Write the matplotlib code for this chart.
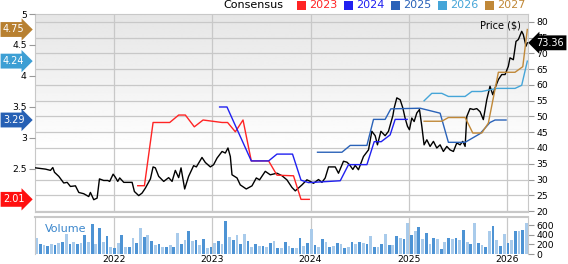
import numpy as np
import matplotlib.pyplot as plt
import matplotlib.transforms as mtransforms
from matplotlib.patches import Rectangle

# Precio semanal (fecha en años decimales, $)
fechas_precio = [2021.205, 2021.307, 2021.357, 2021.381, 2021.398, 2021.442, 2021.492, 2021.527, 2021.560, 2021.611,
                 2021.645, 2021.695, 2021.746, 2021.763, 2021.797, 2021.831, 2021.855, 2021.898, 2021.939, 2021.959,
                 2021.994, 2022.017, 2022.041, 2022.061, 2022.102, 2022.152, 2022.187, 2022.210, 2022.254, 2022.288,
                 2022.322, 2022.373, 2022.400, 2022.423, 2022.457, 2022.508, 2022.558, 2022.593, 2022.626, 2022.660,
                 2022.684, 2022.721, 2022.761, 2022.812, 2022.840, 2022.897, 2022.931, 2022.982, 2023.015, 2023.050,
                 2023.101, 2023.134, 2023.161, 2023.185, 2023.202, 2023.253, 2023.286, 2023.347, 2023.405, 2023.449,
                 2023.482, 2023.540, 2023.591, 2023.659, 2023.710, 2023.760, 2023.811, 2023.845, 2023.878, 2023.913,
                 2023.963, 2024.004, 2024.030, 2024.081, 2024.116, 2024.149, 2024.183, 2024.217, 2024.251, 2024.284,
                 2024.335, 2024.370, 2024.396, 2024.430, 2024.454, 2024.487, 2024.538, 2024.589, 2024.623, 2024.657,
                 2024.680, 2024.715, 2024.758, 2024.792, 2024.837, 2024.850, 2024.877, 2024.911, 2024.938, 2024.961,
                 2024.985, 2025.005, 2025.029, 2025.053, 2025.080, 2025.107, 2025.131, 2025.154, 2025.182, 2025.215,
                 2025.249, 2025.283, 2025.317, 2025.350, 2025.385, 2025.418, 2025.452, 2025.486, 2025.520, 2025.547,
                 2025.571, 2025.588, 2025.621, 2025.655, 2025.689, 2025.723, 2025.756, 2025.791, 2025.824, 2025.852,
                 2025.875, 2025.909, 2025.943, 2025.977, 2026.010, 2026.027, 2026.061, 2026.088, 2026.112, 2026.146,
                 2026.162, 2026.190, 2026.203]
precio = [33.7, 33.3, 32.9, 33.8, 32.3, 31.0, 28.9, 29.1, 27.8, 28.0,
          25.9, 25.5, 24.6, 25.9, 23.6, 24.1, 30.2, 29.7, 29.7, 29.4,
          31.7, 30.7, 29.4, 30.5, 29.1, 29.1, 29.1, 26.2, 24.9, 25.7,
          27.3, 30.2, 34.0, 33.7, 31.0, 29.4, 30.6, 29.4, 32.9, 30.6,
          33.7, 27.0, 31.0, 34.4, 34.0, 37.0, 35.4, 34.0, 34.7, 36.8,
          38.9, 38.4, 40.0, 37.3, 31.5, 30.5, 28.3, 27.0, 28.0, 30.5,
          29.9, 32.6, 31.5, 32.0, 31.2, 29.9, 27.5, 26.4, 27.3, 28.3,
          29.9, 29.3, 28.8, 30.0, 29.1, 30.5, 34.0, 34.0, 34.0, 32.0,
          35.8, 35.5, 34.7, 33.2, 34.5, 33.1, 37.3, 39.4, 45.3, 43.9,
          41.0, 45.3, 43.9, 45.3, 50.3, 52.7, 55.9, 55.3, 52.7, 49.5,
          46.9, 45.8, 49.5, 48.4, 51.1, 52.2, 46.9, 41.0, 42.6, 40.5,
          42.1, 40.0, 41.0, 38.9, 40.5, 39.4, 38.9, 41.6, 41.0, 42.1,
          40.5, 50.0, 52.5, 52.2, 52.5, 51.5, 49.0, 55.3, 59.6, 56.9,
          59.0, 61.7, 63.3, 63.3, 65.9, 68.6, 68.0, 73.8, 74.4, 77.0,
          76.0, 72.3, 73.36]

# Consenso de BPA por año fiscal (fecha, valor)
fechas_2023 = [2022.244, 2022.312, 2022.400, 2022.569, 2022.660, 2022.728, 2022.819, 2022.908, 2023.101,
               2023.157, 2023.236, 2023.314, 2023.398, 2023.574, 2023.659, 2023.827, 2023.903, 2023.987]
bpa_2023 = [2.23, 2.23, 3.25, 3.25, 3.37, 3.37, 3.18, 3.29, 3.25, 3.25, 3.10, 3.29, 2.63, 2.63, 2.40, 2.39, 2.01, 2.01]
fechas_2024 = [2023.076, 2023.151, 2023.398, 2023.574, 2023.659, 2023.817, 2023.903, 2023.980, 2024.302,
               2024.386, 2024.573, 2024.647, 2024.718, 2024.809, 2024.860, 2024.982]
bpa_2024 = [3.50, 3.50, 2.63, 2.63, 2.74, 2.74, 2.32, 2.28, 2.31, 2.57, 2.57, 2.94, 2.94, 3.05, 3.30, 3.30]
fechas_2025 = [2024.071, 2024.319, 2024.403, 2024.573, 2024.640, 2024.758, 2024.816, 2025.114, 2025.317,
               2025.401, 2025.571, 2025.723, 2025.824, 2025.875, 2025.987]
bpa_2025 = [2.77, 2.77, 2.88, 2.88, 3.30, 3.30, 3.47, 3.48, 3.40, 2.93, 2.93, 3.07, 3.25, 3.29, 3.29]
fechas_2026 = [2025.154, 2025.232, 2025.334, 2025.401, 2025.571, 2025.639, 2025.740, 2025.892, 2026.078,
               2026.146, 2026.203]
bpa_2026 = [3.60, 3.72, 3.72, 3.67, 3.67, 3.75, 3.75, 3.80, 3.80, 3.85, 4.24]
fechas_2027 = [2025.154, 2025.334, 2025.401, 2025.571, 2025.649, 2025.740, 2025.807, 2025.909, 2026.078,
               2026.157, 2026.203]
bpa_2027 = [3.27, 3.27, 3.33, 3.33, 3.08, 3.08, 3.24, 4.06, 4.06, 4.15, 4.75]

anios = ['2023', '2024', '2025', '2026', '2027']
colores = ['#ff2424', '#2020f0', '#2a62b8', '#45a5d8', '#c08838']
etiqueta_col = ['#ff1010', None, '#2660b4', '#3d9fd4', '#b88030']

# Volumen semanal (miles)
volumen = [330, 200, 190, 170, 200, 180, 230, 260, 420, 200, 250, 200, 220, 400, 250, 620, 200, 540, 240, 380,
           150, 130, 220, 390, 150, 140, 330, 220, 550, 350, 390, 280, 180, 210, 150, 140, 180, 150, 430, 200,
           300, 480, 280, 300, 180, 310, 130, 150, 220, 280, 200, 690, 350, 300, 400, 200, 420, 270, 150, 200,
           160, 170, 150, 220,
           270, 120, 130, 250, 160, 130, 130, 340, 170, 230, 510, 180, 150, 320, 240, 150, 170, 220, 200, 120,
           150, 240, 210, 250, 230, 200, 370, 150, 140, 210, 410, 190, 180, 370, 340, 310, 640, 400, 480, 560,
           310, 430, 200, 330, 310, 100, 250, 340, 320, 330, 290, 500, 260, 200, 640, 220, 180, 150, 470, 580,
           300, 170, 410, 220, 300, 470, 480, 500, 650]
vol_inicio, vol_fin = 2021.215, 2026.195

series = [(fechas_2023, bpa_2023), (fechas_2024, bpa_2024), (fechas_2025, bpa_2025),
          (fechas_2026, bpa_2026), (fechas_2027, bpa_2027)]

x_min, x_max = 2021.2, 2026.21
gris = '#c8c8c8'

fig = plt.figure(figsize=(5.68, 2.64), dpi=100)
ax = fig.add_axes([35/568, 52/264, 493/568, 198/264])
ax2 = ax.twinx()
axv = fig.add_axes([35/568, 10/264, 493/568, 37/264])

# fondo degradado
t = np.linspace(0, 1, 200)
grad = np.clip(0.90 + 0.10 * t / 0.7, 0, 1).reshape(-1, 1)
ax.imshow(grad, extent=[0, 1, 0, 1], transform=ax.transAxes, aspect='auto',
          cmap='gray', vmin=0, vmax=1, zorder=0)

# precio (eje derecho)
ax.plot(fechas_precio, precio, color='black', lw=1.0, zorder=3)
ax.set_xlim(x_min, x_max)
ax.set_ylim(19.7, 82.5)
ax.set_yticks(range(20, 85, 5))
ax.yaxis.tick_right()
ax.set_xticks([2022, 2023, 2024, 2025, 2026])
ax.tick_params(axis='x', labelbottom=False, length=0)
ax.tick_params(axis='y', labelsize=6.7, length=4, color='#999999', pad=2)
ax.grid(True, color=gris, lw=0.9, zorder=1)
ax.set_axisbelow(True)
for s in ax.spines.values():
    s.set_color(gris)

# consenso (eje izquierdo)
for (f, v), c in zip(series, colores):
    ax2.plot(f, v, color=c, lw=1.0)
ax2.set_ylim(1.806, 5.0)
ax2.set_yticks([2.5, 3, 3.5, 4, 4.5, 5])
ax2.set_yticklabels(['2.5', '3', '3.5', '4', '4.5', '5'])
ax2.yaxis.tick_left()
ax2.tick_params(axis='y', labelsize=6.7, length=4, color='#999999', pad=2)
for s in ax2.spines.values():
    s.set_visible(False)

# etiquetas de último valor
tr2 = mtransforms.blended_transform_factory(ax2.transAxes, ax2.transData)
for (f, v), c in zip(series, etiqueta_col):
    if c is None:
        continue
    ax2.text(-0.043, v[-1], f'{v[-1]:.2f}', transform=tr2, ha='center', va='center',
             color='white', fontsize=7, clip_on=False, zorder=10,
             bbox=dict(boxstyle='rarrow,pad=0.25', fc=c, ec='none'))

tr1 = mtransforms.blended_transform_factory(ax.transAxes, ax.transData)
ax2.text(1.045, precio[-1], f'{precio[-1]:.2f}',
         transform=mtransforms.blended_transform_factory(ax2.transAxes, ax.transData),
         ha='center', va='center', color='white', fontsize=7, clip_on=False, zorder=10,
         bbox=dict(boxstyle='larrow,pad=0.25', fc='black', ec='none'))

# leyenda de precio
ax2.add_patch(Rectangle((464/568, 23/264), 11/568, 4/264, transform=fig.transFigure,
                        fc='black', ec='none', clip_on=False))
fig.text(480/568, 1 - 25/264, 'Price ($)', fontsize=7, va='center')

# leyenda de consenso
fig.text(223/568, 1 - 5.5/264, 'Consensus', fontsize=8, va='center')
for i, (a, c) in enumerate(zip(anios, colores)):
    x0 = 297 + i * 47
    fig.patches.append(Rectangle((x0/568, 1 - 10/264), 9/568, 9/264,
                                 transform=fig.transFigure, fc=c, ec='none'))
    fig.text((x0 + 12)/568, 1 - 5.5/264, a, fontsize=8, color=c, va='center')

# volumen
x_vol = np.linspace(vol_inicio, vol_fin, len(volumen))
ancho = (vol_fin - vol_inicio) / len(volumen) * 0.75
col_vol = ['#a9cbeb' if i % 2 == 0 else '#4d93d4' for i in range(len(volumen))]
axv.bar(x_vol, volumen, width=ancho, color=col_vol, zorder=2)
axv.set_xlim(x_min, x_max)
axv.set_ylim(0, 770)
axv.set_yticks([0, 200, 400, 600])
axv.yaxis.tick_right()
axv.tick_params(axis='y', labelsize=6.7, length=4, color='#999999', pad=2)
axv.set_xticks([2022, 2023, 2024, 2025, 2026])
axv.set_xticklabels(['2022', '2023', '2024', '2025', '2026'])
axv.tick_params(axis='x', labelsize=6.7, length=0, pad=1)
axv.grid(True, axis='x', color=gris, lw=0.9, zorder=1)
axv.set_axisbelow(True)
for s in axv.spines.values():
    s.set_color(gris)
axv.spines['top'].set_linewidth(1.5)
axv.spines['bottom'].set_visible(False)
axv.text(0.02, 0.68, 'Volume', transform=axv.transAxes, color='#3a86cc', fontsize=8, va='center')

fig.savefig('out.png', dpi=100)
